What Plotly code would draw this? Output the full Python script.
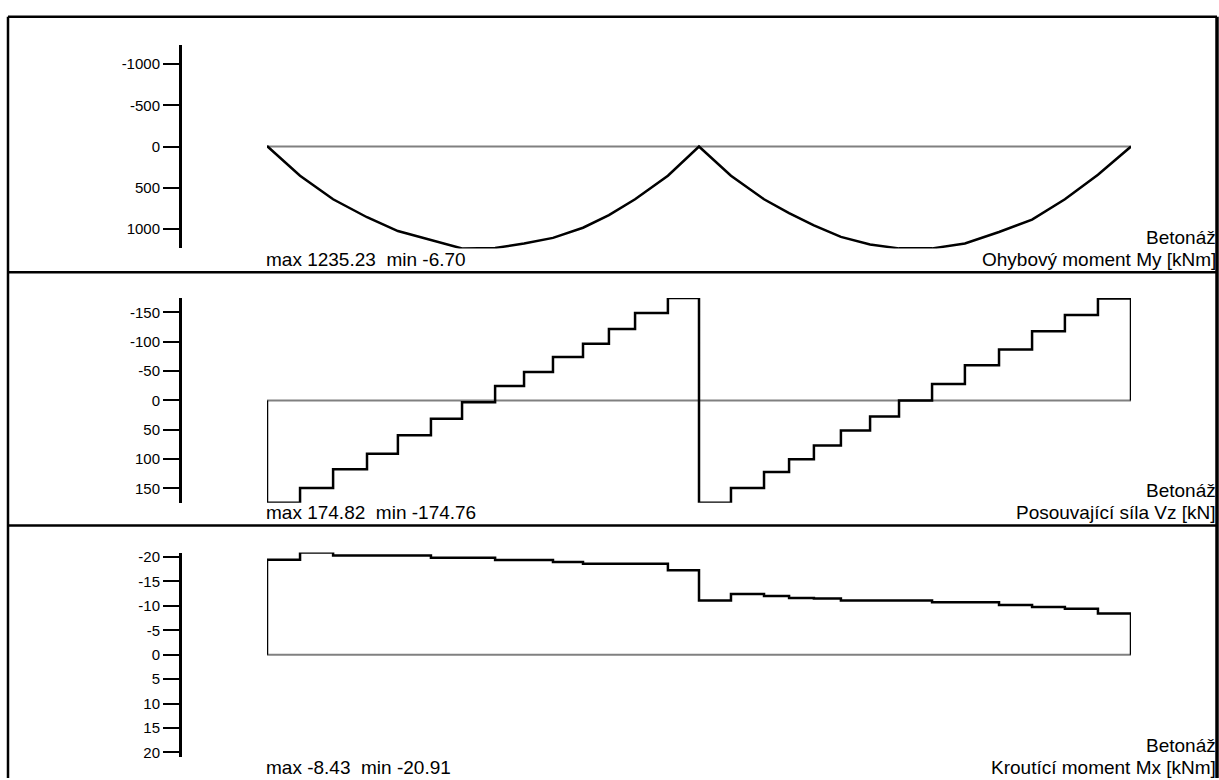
import plotly.graph_objects as go

W, H = 1219, 780

# ---------------- data ----------------
# node positions along the beam [m] (two spans)
x_span1 = [0.0, 1.53, 3.06, 4.63, 6.06, 7.59, 9.03, 10.56, 11.90, 13.24, 14.63, 15.83, 17.04, 18.56, 20.0]
x_span2 = [20.0, 21.48, 23.01, 24.17, 25.32, 26.57, 27.92, 29.26, 30.79, 32.31, 33.89, 35.42, 36.94, 38.47, 40.0]

# bending moment My [kNm] at nodes
my_span1 = [-6.70, 353, 639, 857, 1024, 1135, 1235.23, 1229, 1175, 1107, 984, 832, 639, 353, 0]
my_span2 = [0, 353, 639, 808, 956, 1095, 1187, 1234, 1234, 1175, 1036, 885, 639, 341, 0]

# shear force Vz [kN] per element
vz_span1 = [174.50, 149.5, 117.4, 90.9, 59.5, 31.3, 3.0, -24.5, -48.6, -74.0, -96.6, -122.0, -149.0, -174.76]
vz_span2 = [174.82, 149.5, 122.0, 100.5, 76.9, 51.5, 27.4, 0.3, -27.9, -60.0, -87.0, -118.0, -145.6, -173.7]

# torsional moment Mx [kNm] per element
mx_span1 = [-19.45, -20.91, -20.3, -20.3, -20.3, -19.86, -19.86, -19.4, -19.4, -19.0, -18.65, -18.65, -18.65, -17.3]
mx_span2 = [-11.1, -12.45, -12.05, -11.6, -11.5, -11.1, -11.1, -11.1, -10.77, -10.77, -10.2, -9.8, -9.4, -8.43]

my_ticks = [-1000, -500, 0, 500, 1000]
vz_ticks = [-150, -100, -50, 0, 50, 100, 150]
mx_ticks = [-20, -15, -10, -5, 0, 5, 10, 15, 20]

case_name = "Betonáž"
titles = ["Ohybový moment My [kNm]", "Posouvající síla Vz [kN]", "Kroutící moment Mx [kNm]"]
extremes = ["max 1235.23  min -6.70", "max 174.82  min -174.76", "max -8.43  min -20.91"]

# ---------------- helpers ----------------
def px_x(p):
    return p / W

def px_y(p):
    return 1 - p / H

FONT = "Liberation Sans, Arial, sans-serif"
BLACK = "#000000"
GREY = "#808080"

x_all = x_span1 + x_span2[1:]

def step_path(xs1, v1, xs2, v2):
    # 'hv' step path: start at 0, steps over elements, back to 0
    xs = [xs1[0]] + xs1[:-1] + xs2[:-1] + [xs2[-1]]
    ys = [0] + v1 + v2 + [0]
    return xs, ys

fig = go.Figure()
LW = 2.5

# panel 1 - moment
fig.add_trace(go.Scatter(x=[x_all[0], x_all[-1]], y=[0, 0], mode="lines",
                         line=dict(color=GREY, width=2), xaxis="x", yaxis="y"))
fig.add_trace(go.Scatter(x=x_all, y=my_span1 + my_span2[1:], mode="lines",
                         line=dict(color=BLACK, width=LW), xaxis="x", yaxis="y"))

# panel 2 - shear
fig.add_trace(go.Scatter(x=[x_all[0], x_all[-1]], y=[0, 0], mode="lines",
                         line=dict(color=GREY, width=2), xaxis="x", yaxis="y2"))
sx, sy = step_path(x_span1, vz_span1, x_span2, vz_span2)
fig.add_trace(go.Scatter(x=sx, y=sy, mode="lines", line=dict(color=BLACK, width=LW, shape="hv"),
                         xaxis="x", yaxis="y2"))

# panel 3 - torsion
fig.add_trace(go.Scatter(x=[x_all[0], x_all[-1]], y=[0, 0], mode="lines",
                         line=dict(color=GREY, width=2), xaxis="x", yaxis="y3"))
tx, ty = step_path(x_span1, mx_span1, x_span2, mx_span2)
fig.add_trace(go.Scatter(x=tx, y=ty, mode="lines", line=dict(color=BLACK, width=LW, shape="hv"),
                         xaxis="x", yaxis="y3"))

def yax(domain, rng, ticks):
    return dict(domain=domain, range=rng, anchor="free", position=px_x(180), side="left",
                showline=True, linecolor=BLACK, linewidth=2.5, ticks="outside", ticklen=16,
                tickwidth=2, tickcolor=BLACK, tickvals=ticks, ticktext=[str(t) for t in ticks],
                tickfont=dict(family=FONT, size=15, color=BLACK), showgrid=False, zeroline=False,
                fixedrange=True)

my_lim = max(abs(v) for v in my_span1 + my_span2)
vz_lim = max(abs(v) for v in vz_span1 + vz_span2)
mx_lim = max(abs(v) for v in mx_span1 + mx_span2)

layout = dict(
    width=W, height=H, margin=dict(l=0, r=0, t=0, b=0),
    paper_bgcolor="white", plot_bgcolor="rgba(0,0,0,0)", showlegend=False, hovermode=False,
    xaxis=dict(domain=[px_x(267), px_x(1131)], range=[x_all[0], x_all[-1]], visible=False,
               anchor="y", fixedrange=True),
    yaxis=yax([px_y(247), px_y(41)], [my_lim, -my_lim], my_ticks),
    yaxis2=yax([px_y(504), px_y(297)], [vz_lim, -vz_lim], vz_ticks),
    yaxis3=yax([px_y(760.7), px_y(554.3)], [mx_lim, -mx_lim], mx_ticks),
)
fig.update_layout(**layout)

# frame
shapes = [
    dict(type="line", xref="paper", yref="paper", x0=px_x(8), x1=px_x(1217), y0=px_y(13), y1=px_y(13),
         line=dict(color=BLACK, width=2.5)),
    dict(type="line", xref="paper", yref="paper", x0=px_x(8), x1=px_x(8), y0=px_y(13), y1=px_y(782),
         line=dict(color=BLACK, width=2.5)),
    dict(type="line", xref="paper", yref="paper", x0=px_x(1217), x1=px_x(1217), y0=px_y(13), y1=px_y(782),
         line=dict(color=BLACK, width=3.5)),
    dict(type="line", xref="paper", yref="paper", x0=px_x(8), x1=px_x(1217), y0=px_y(271), y1=px_y(271),
         line=dict(color=BLACK, width=2.5)),
    dict(type="line", xref="paper", yref="paper", x0=px_x(8), x1=px_x(1217), y0=px_y(527), y1=px_y(527),
         line=dict(color=BLACK, width=2.5)),
]

annotations = []
FS = 19
for i, (yt, ysub) in enumerate([(236, 258), (492, 514), (749, 771)]):
    annotations.append(dict(xref="paper", yref="paper", x=px_x(265), y=px_y(ysub), xanchor="left",
                            yanchor="middle", text=extremes[i], showarrow=False, borderpad=0,
                            font=dict(family=FONT, size=FS, color=BLACK)))
    annotations.append(dict(xref="paper", yref="paper", x=px_x(1217), y=px_y(ysub), xanchor="right",
                            yanchor="middle", text=titles[i], showarrow=False, borderpad=0,
                            font=dict(family=FONT, size=FS, color=BLACK)))
    annotations.append(dict(xref="paper", yref="paper", x=px_x(1217), y=px_y(yt), xanchor="right",
                            yanchor="middle", text=case_name, showarrow=False, borderpad=0,
                            font=dict(family=FONT, size=FS, color=BLACK)))

fig.update_layout(shapes=shapes, annotations=annotations)

fig.write_html("out.html", config={"displayModeBar": False, "staticPlot": True})
